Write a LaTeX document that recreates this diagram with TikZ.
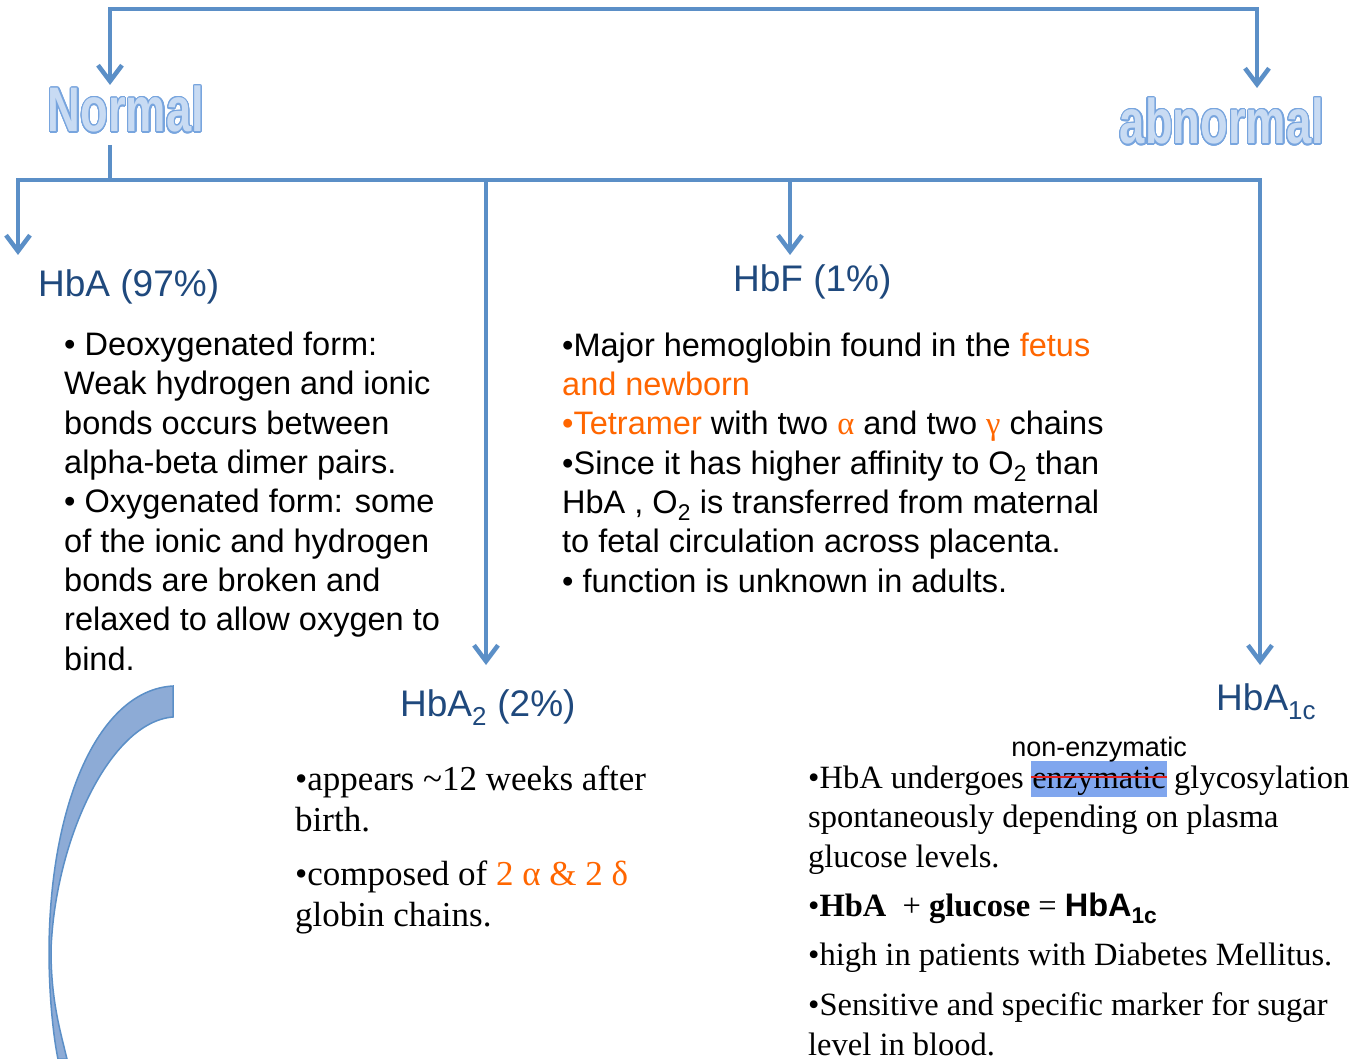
\documentclass[tikz,border=0pt]{standalone}
\usepackage{fontspec}
\setmainfont{Liberation Serif}
\setsansfont{Liberation Sans}
\newfontfamily\arial{Liberation Sans}
\usepackage{graphicx}
\usepackage{contour}
\usetikzlibrary{arrows.meta,positioning}
\definecolor{linkblue}{RGB}{91,143,199}
\definecolor{headblue}{RGB}{31,73,125}
\definecolor{hilite}{RGB}{128,166,238}
\definecolor{accent}{RGB}{255,102,0}
\definecolor{strikered}{RGB}{224,32,32}
\definecolor{bandfill}{RGB}{141,171,214}
\definecolor{glowblue}{RGB}{120,165,222}
\definecolor{wordfill}{RGB}{200,219,243}
\contourlength{1.2pt}
\contournumber{24}

\newcommand{\hl}[1]{\textcolor{accent}{#1}}
\newcommand{\glowword}[1]{\contour{glowblue}{\textcolor{wordfill}{\scalebox{0.72}[1]{#1}}}}

\begin{document}
\begin{tikzpicture}[x=1pt, y=-1pt,
    link/.style={draw=linkblue, line width=4.5pt},
    tip/.style={-{Straight Barb[length=16pt, width=24pt]}},
    twotips/.style={{Straight Barb[length=16pt, width=24pt]}-{Straight Barb[length=16pt, width=24pt]}},
    title/.style={inner sep=0pt, font=\arial\bfseries\fontsize{63}{63}\selectfont},
    head/.style={inner sep=0pt, anchor=base west, text=headblue, font=\arial\fontsize{37}{44}\selectfont},
    body/.style={inner sep=0pt, anchor=base west, align=left, font=\arial\fontsize{32.5}{39.3}\selectfont},
    serifbody/.style={inner sep=0pt, anchor=base west, align=left, font=\rmfamily\fontsize{32.5}{41}\selectfont},
    note/.style={inner sep=0pt, font=\arial\fontsize{27}{30}\selectfont}]

    \useasboundingbox[fill=white] (0,0) rectangle (1365,1059);

    % titles
    \node[title] (normal) at (126,110) {\glowword{Normal}};
    \node[title] (abnormal) at (1222,122) {\glowword{abnormal}};

    % arrow ends
    \coordinate (ntip) at (110,85);
    \coordinate (atip) at (1257,88);
    \coordinate (hub) at (110,180);
    \coordinate (tipA) at (18,255);
    \coordinate (tipAtwo) at (486,665);
    \coordinate (tipF) at (790,255);
    \coordinate (tipAonec) at (1260,665);

    % Normal <-> abnormal
    \draw[link, twotips] (ntip) -- ++(0,-76) -| (atip);

    % Normal -> variants
    \draw[link] ([yshift=-11pt]normal.south -| hub) -- (hub);
    \draw[link, tip] (hub) -| (tipA);
    \draw[link, tip] (hub) -| (tipAtwo);
    \draw[link, tip] (hub) -| (tipF);
    \draw[link, tip] (hub) -| (tipAonec);

    % headings
    \node[head] (hba) at (38,297) {HbA (97\%)};
    \node[head] (hbf) at (733,292) {HbF (1\%)};
    \node[head] (hbatwo) at (400,716) {HbA\textsubscript{2} (2\%)};
    \node[head] (hbaonec) at (1216,710) {HbA\textsubscript{1c}};

    % HbA (base = last line)
    \node[body] (hbatext) at (64,670) {• Deoxygenated form:\\Weak hydrogen and ionic\\bonds occurs between\\alpha-beta dimer pairs.\\• Oxygenated form: some\\of the ionic and hydrogen\\bonds are broken and\\relaxed to allow oxygen to\\bind.};

    % HbF
    \node[body] (hbftext) at (562,592) {•Major hemoglobin found in the \hl{fetus}\\\hl{and newborn}\\\hl{•Tetramer} with two {\rmfamily\hl{α}} and two {\rmfamily\hl{γ}} chains\\•Since it has higher affinity to O\textsubscript{2} than\\HbA , O\textsubscript{2} is transferred from maternal\\to fetal circulation across placenta.\\• function is unknown in adults.};

    % HbA2
    \node[serifbody, font=\rmfamily\fontsize{35}{41}\selectfont] (hbatwotext) at (295,926) {•appears \textasciitilde12 weeks after\\birth.\\[13pt]•composed of \hl{2 α \& 2 δ}\\globin chains.};

    % HbA1c
    \node[serifbody] (glyone) at (808,788) {•HbA undergoes};
    \node[serifbody, anchor=base west, fill=hilite, inner xsep=1pt, text height=27pt, text depth=9pt] (enz) at ([xshift=7pt]glyone.base east) {enzymatic};
    \node[serifbody] (glytwo) at ([xshift=7pt]enz.base east) {glycosylation};
    \draw[strikered, line width=2.5pt] ([yshift=11pt]enz.base west) -- ([yshift=11pt]enz.base east);
    \node[note, anchor=base] (nonenz) at ([yshift=4pt]enz.north) {non-enzymatic};
    \node[serifbody, font=\rmfamily\fontsize{32.5}{39.5}\selectfont] (hbaonectext) at (808,1055) {spontaneously depending on plasma\\glucose levels.\\[10pt]•\textbf{HbA}\ \ + \textbf{glucose} = {\arial\bfseries HbA\textsubscript{1c}}\\[9pt]•high in patients with Diabetes Mellitus.\\[11pt]•Sensitive and specific marker for sugar\\level in blood.};

    % curved band
    \draw[draw=linkblue, fill=bandfill, line width=1.5pt] (173,686) .. controls (100,690) and (50,800) .. (49,950) .. controls (49,1000) and (54,1040) .. (58,1059) -- (67,1059) .. controls (60,1030) and (51,1000) .. (51,950) .. controls (55,840) and (110,722) .. (173,717) -- cycle;
\end{tikzpicture}
\end{document}
